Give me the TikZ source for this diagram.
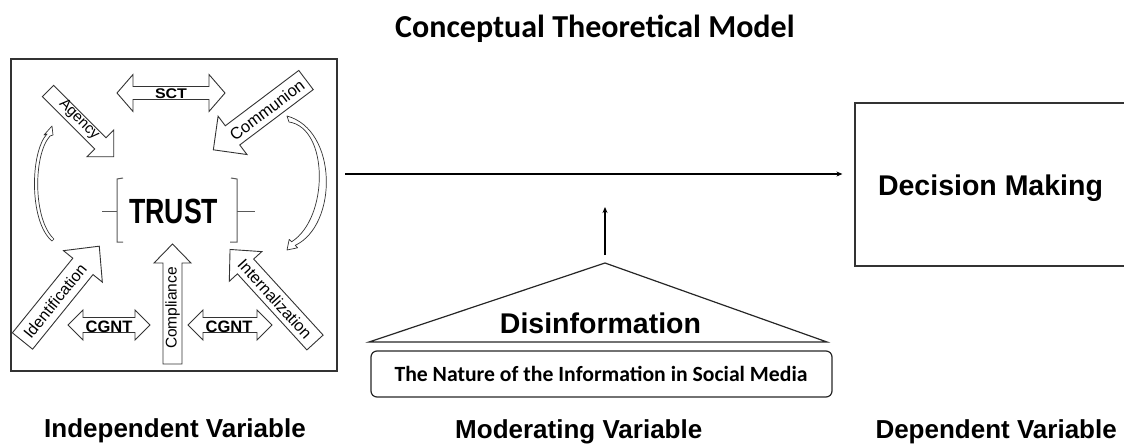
\documentclass[tikz,border=0pt]{standalone}
\usepackage{fontspec}
\usepackage{graphicx}
\setmainfont{Liberation Sans}
\newfontfamily\calib{Carlito}
\usetikzlibrary{arrows.meta}
\newcommand\fsz[1]{\fontsize{#1}{#1}\selectfont}
% single block arrow: tail centre, angle, length, shaft half width, head half width, head length
\newcommand\blockarrow[6]{%
  \begin{scope}[shift={#1},rotate=#2]
    \draw[blk] (0,-#4) -- ({#3-#6},-#4) -- ({#3-#6},-#5) -- (#3,0) -- ({#3-#6},#5) -- ({#3-#6},#4) -- (0,#4) -- cycle;
  \end{scope}}
% double block arrow: centre, half length, shaft half width, head half width, head length
\newcommand\dblarrow[5]{%
  \begin{scope}[shift={#1}]
    \draw[blk] (-#2,0) -- ({-#2+#5},-#4) -- ({-#2+#5},-#3) -- ({#2-#5},-#3) -- ({#2-#5},-#4) -- (#2,0) -- ({#2-#5},#4) -- ({#2-#5},#3) -- ({-#2+#5},#3) -- ({-#2+#5},#4) -- cycle;
  \end{scope}}
\tikzset{
  frame/.style={draw=black!80, line width=1.2pt},
  blk/.style={draw=black!80, line width=0.9pt, fill=white, line join=miter},
  txt/.style={inner sep=0pt, text=black},
  lbl/.style={txt, font=\bfseries\fsz{26}},
  rot/.style={txt, font=\fsz{#1}},
  conn/.style={line width=1.2pt, -{Stealth[length=6pt,width=5pt]}},
  brk/.style={draw=black!65, line width=1pt},
  crs/.style={draw=black!80, line width=0.7pt, fill=white, line join=round},
}
\begin{document}
\begin{tikzpicture}[x=1pt,y=-1pt]
\useasboundingbox (0,0) rectangle (1124,444);

% title
\node[txt, anchor=base west, font=\calib\bfseries\fsz{32}] (title) at (395,38) {Conceptual Theoretical Model};

% independent variable box
\node[frame, minimum width=326pt, minimum height=312pt, inner sep=0pt] (tbox) at (174,215) {};

% block arrows
\blockarrow{(48,91)}{-45}{93}{8}{19}{19}
\blockarrow{(306,80)}{217}{116}{12}{24}{24}
\blockarrow{(22.5,341)}{51}{122}{13}{25}{26}
\blockarrow{(172.5,364)}{90}{120}{9.5}{18.5}{19}
\blockarrow{(315,342.5)}{132.4}{126}{11}{22}{23}
\dblarrow{(171,93)}{54}{6.5}{18.5}{16}
\dblarrow{(109,325)}{41}{7.5}{15}{15}
\dblarrow{(230,325)}{42}{7.5}{15}{15}

\node[rot=15, rotate=-45] (agency) at (79,120) {Agency};
\node[rot=16.5, rotate=37] (communion) at (267,110) {Communion};
\node[rot=16, rotate=51] (ident) at (55,301) {Identification};
\node[rot=15.5, rotate=90] (compl) at (172.5,308) {Compliance};
\node[rot=16.2, rotate=-47.6] (intern) at (275,299) {Internalization};
\node[txt, anchor=base, font=\bfseries\fsz{14}] (sct) at (171,98) {\resizebox{32pt}{\height}{SCT}};
\node[txt, anchor=base, font=\bfseries\fsz{16.5}] (cgnt1) at (109,332) {CGNT};
\node[txt, anchor=base, font=\bfseries\fsz{16.5}] (cgnt2) at (229,332) {CGNT};

% curved arrows
\draw[crs] (52,241) .. controls (29,222) and (30,152) .. (47,134) -- (44,135) -- (52,126) -- (53,135) -- (50,136) .. controls (33,155) and (33,220) .. (54,239) -- cycle;
\draw[crs] (291.6,241.8) -- (289.2,239.4) -- (287,250) -- (297.6,247.8) -- (295.2,245.4) .. controls (338,225) and (338,130) .. (287,116) -- (289,122) .. controls (329,128) and (329,218) .. (291.6,241.8) -- cycle;

% TRUST with brackets
\node[txt, anchor=base west, font=\bfseries\fsz{35}] (trust) at (129,223) {\resizebox{89pt}{\height}{TRUST}};
\draw[brk] (123,178) -- (117,179) -- (117,242) -- (123,242);
\draw[brk] (102,211) -- (117,211);
\draw[brk] (231,178) -- (237,179) -- (237,242) -- (230,242);
\draw[brk] (237,211) -- (255,211);

% dependent variable box
\node[frame, minimum width=271pt, minimum height=163pt, inner sep=0pt] (dmbox) at (990.5,184.5) {};
\node[txt, anchor=base, font=\bfseries\fsz{28.5}] (dm) at (990.5,195) {Decision Making};

% main connector
\coordinate (hs) at (345,174);
\draw[conn, shorten >=12pt] (hs) -- (hs -| dmbox.west);

% moderating part
\coordinate (apex) at (605,263);
\coordinate (bl) at (369,342);
\coordinate (br) at (827,342);
\draw[line width=1.2pt, draw=black!85, line join=miter] (bl) -- (apex) -- (br) -- cycle;
\coordinate (vtop) at (605,207);
\draw[conn, shorten <=8pt] (apex) -- (vtop);
\node[txt, anchor=base, font=\bfseries\fsz{28.5}] (disinfo) at (600.5,333) {Disinformation};
\node[draw=black!85, line width=1.2pt, rounded corners=6pt, minimum width=461pt, minimum height=46pt, inner sep=0pt] (nbox) at (601.5,374) {};
\node[txt, anchor=base, font=\calib\bfseries\fsz{21.7}] (ntext) at (601,381) {The Nature of the Information in Social Media};

% bottom labels
\node[lbl, anchor=base west] (indep) at (44,437) {Independent Variable};
\node[lbl, anchor=base west] (moder) at (455,438) {Moderating Variable};
\node[lbl, anchor=base east] (depen) at (1117,438) {Dependent Variable};
\end{tikzpicture}
\end{document}
